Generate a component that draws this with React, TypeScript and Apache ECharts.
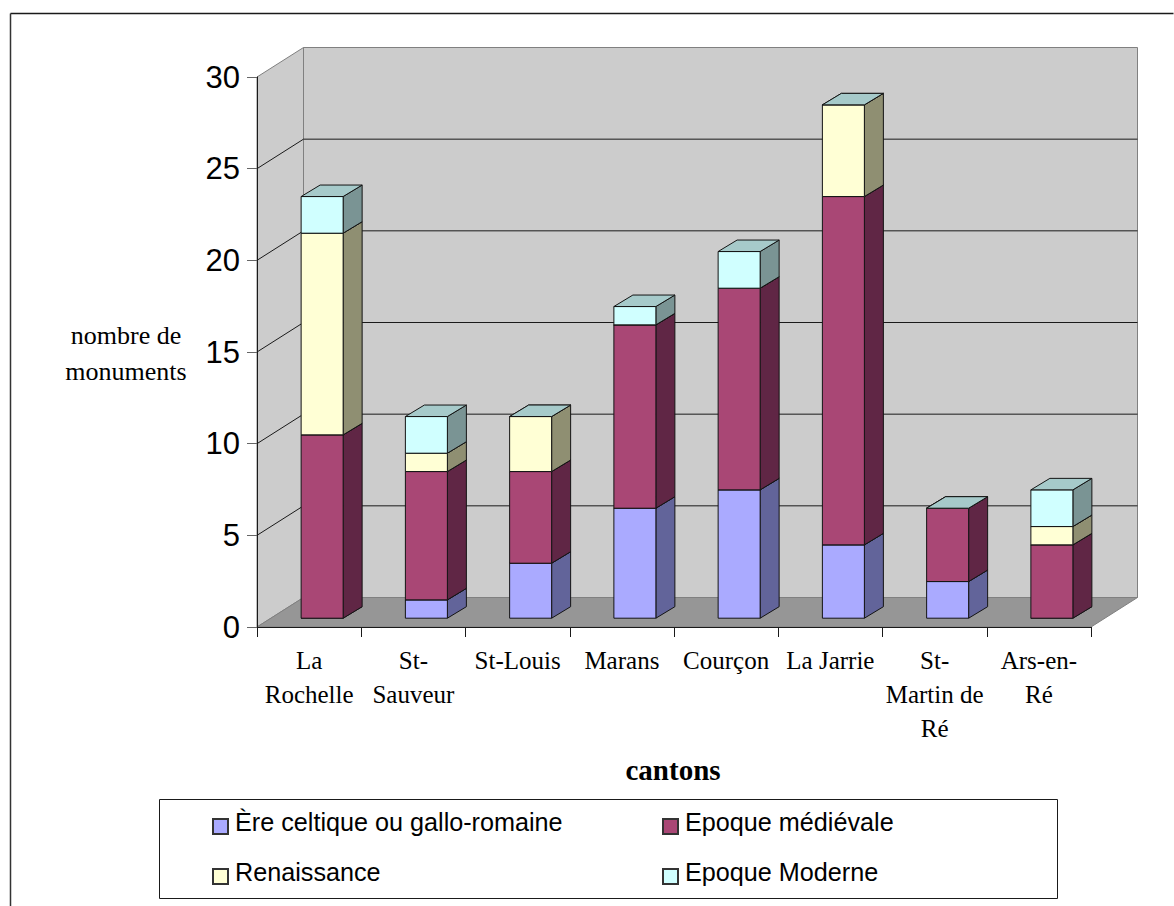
import React, { useEffect, useRef } from "react";
import * as echarts from "echarts";

const categories = ["La\nRochelle", "St-\nSauveur", "St-Louis", "Marans", "Courçon", "La Jarrie", "St-\nMartin de\nRé", "Ars-en-\nRé"];
const celtique = [0, 1, 3, 6, 7, 4, 2, 0];
const medievale = [10, 7, 5, 10, 11, 19, 4, 4];
const renaissance = [11, 1, 3, 0, 0, 5, 0, 1];
const moderne = [2, 2, 0, 1, 2, 0, 0, 2];
const yTicks = [0, 5, 10, 15, 20, 25, 30];
const seriesNames = ["Ère celtique ou gallo-romaine", "Epoque médiévale", "Renaissance", "Epoque Moderne"];
const seriesValues = [celtique, medievale, renaissance, moderne];
const frontColors = ["#AAAAFF", "#A94775", "#FFFFD5", "#D0FFFF"];
const sideColors = ["#62649A", "#602645", "#8F8F72", "#7A9494"];
const topColors = ["#7F7FBF", "#7F3558", "#BFBF9F", "#A6CACA"];

const WALL_DX = 46.5;
const WALL_DY = -29.5;
const BAR_DX = 19;
const BAR_DY = -11.5;
const BAR_SHIFT_X = 13;
const BAR_SHIFT_Y = -8.8;
const BAR_W = 42;

const SERIF = "'Liberation Serif'";
const SANS = "'Liberation Sans'";

function pts(a: number[][]) {
  return a.map((p) => [p[0], p[1]]);
}

function wallItem(params: any, api: any) {
  const v = api.value(1);
  const p0 = api.coord([0, 0]);
  const p1 = api.coord([categories.length - 1, 0]);
  const band = api.size([1, 0])[0];
  const left = p0[0] - band / 2;
  const right = p1[0] + band / 2;
  const y0 = p0[1];
  const yv = api.coord([0, v])[1];
  const children: any[] = [];
  if (v === 0) {
    const yTop = api.coord([0, yTicks[yTicks.length - 1]])[1];
    children.push({
      type: "polygon",
      shape: { points: pts([[left + WALL_DX, yTop + WALL_DY], [right + WALL_DX, yTop + WALL_DY], [right + WALL_DX, y0 + WALL_DY], [left + WALL_DX, y0 + WALL_DY]]) },
      style: { fill: "#CCCCCC", stroke: "#808080", lineWidth: 1 },
    });
    children.push({
      type: "polygon",
      shape: { points: pts([[left, yTop], [left + WALL_DX, yTop + WALL_DY], [left + WALL_DX, y0 + WALL_DY], [left, y0]]) },
      style: { fill: "#CCCCCC", stroke: "#808080", lineWidth: 1 },
    });
    children.push({
      type: "polygon",
      shape: { points: pts([[left, y0], [left + WALL_DX, y0 + WALL_DY], [right + WALL_DX, y0 + WALL_DY], [right, y0]]) },
      style: { fill: "#969696", stroke: "#808080", lineWidth: 1 },
    });
  } else if (v < yTicks[yTicks.length - 1]) {
    children.push({
      type: "polyline",
      shape: { points: pts([[left, yv], [left + WALL_DX, yv + WALL_DY], [right + WALL_DX, yv + WALL_DY]]) },
      style: { fill: "none", stroke: "#1A1A1A", lineWidth: 1 },
    });
  }
  return { type: "group", children };
}

function barItem(sIdx: number) {
  return (params: any, api: any) => {
    const cat = api.value(0);
    const from = api.value(1);
    const to = api.value(2);
    const pA = api.coord([cat, from]);
    const pB = api.coord([cat, to]);
    const x1 = pA[0] - BAR_W / 2 + BAR_SHIFT_X;
    const x2 = x1 + BAR_W;
    const yb = pA[1] + BAR_SHIFT_Y;
    const yt = pB[1] + BAR_SHIFT_Y;
    const stroke = "#141414";
    const children: any[] = [];
    if (to > from) {
      children.push({
        type: "polygon",
        shape: { points: pts([[x2, yb], [x2 + BAR_DX, yb + BAR_DY], [x2 + BAR_DX, yt + BAR_DY], [x2, yt]]) },
        style: { fill: sideColors[sIdx], stroke, lineWidth: 1 },
      });
      children.push({
        type: "rect",
        shape: { x: x1, y: yt, width: BAR_W, height: yb - yt },
        style: { fill: frontColors[sIdx], stroke, lineWidth: 1 },
      });
    }
    children.push({
      type: "polygon",
      shape: { points: pts([[x1, yt], [x1 + BAR_DX, yt + BAR_DY], [x2 + BAR_DX, yt + BAR_DY], [x2, yt]]) },
      style: { fill: topColors[sIdx], stroke, lineWidth: 1 },
    });
    return { type: "group", children };
  };
}

function buildStack(i: number) {
  return categories.map((_, c) => {
    let from = 0;
    for (let k = 0; k < i; k++) from += seriesValues[k][c];
    return [c, from, from + seriesValues[i][c]];
  });
}

export default function App() {
  const ref = useRef<HTMLDivElement>(null);
  useEffect(() => {
    document.body.style.margin = "0";
    document.body.style.overflow = "hidden";
    const chart = echarts.init(ref.current!, undefined, { renderer: "svg" });
    const legendCommon = {
      orient: "vertical",
      icon: "path://M0,0M0,9L15,9L15,24L0,24Z",
      padding: 0,
      itemWidth: 15,
      itemHeight: 24,
      itemGap: 24,
      textStyle: { fontFamily: SANS, fontSize: 25.2, color: "#000", padding: [0, 0, 0, 2] },
      selectedMode: false,
    };
    chart.setOption({
      animation: false,
      backgroundColor: "#FFFFFF",
      textStyle: { fontFamily: SERIF },
      grid: { left: 257, right: 83, top: 77, bottom: 279, containLabel: false },
      xAxis: {
        type: "category",
        data: categories,
        z: 10,
        axisLine: { lineStyle: { color: "#1A1A1A", width: 1 } },
        axisTick: { show: true, length: 10, alignWithLabel: false, lineStyle: { color: "#1A1A1A" } },
        axisLabel: { fontFamily: SERIF, fontSize: 25, color: "#000", interval: 0, lineHeight: 34, margin: 16 },
        splitLine: { show: false },
      },
      yAxis: {
        type: "value",
        min: 0,
        max: 30,
        interval: 5,
        z: 10,
        axisLine: { show: true, lineStyle: { color: "#1A1A1A", width: 1 } },
        axisTick: { show: true, length: 10, lineStyle: { color: "#666666" } },
        axisLabel: { fontFamily: SANS, fontSize: 31, color: "#000", margin: 17 },
        splitLine: { show: false },
      },
      legend: [
        { ...legendCommon, left: 212, top: 809, data: [seriesNames[0], seriesNames[2]] },
        { ...legendCommon, left: 662, top: 809, data: [seriesNames[1], seriesNames[3]] },
      ],
      series: [
        {
          type: "custom",
          name: "walls",
          coordinateSystem: "cartesian2d",
          clip: false,
          silent: true,
          data: yTicks.map((v) => [0, v]),
          encode: { x: 0, y: 1 },
          renderItem: wallItem,
          z: 1,
        },
        ...seriesNames.map((name, i) => ({
          type: "custom",
          name,
          coordinateSystem: "cartesian2d",
          clip: false,
          data: buildStack(i),
          encode: { x: 0, y: [1, 2] },
          itemStyle: { color: frontColors[i], borderColor: "#333", borderWidth: 1 },
          renderItem: barItem(i),
          z: 2 + i,
        })),
      ],
      graphic: [
        { type: "line", shape: { x1: 10.5, y1: 13.5, x2: 1173.5, y2: 13.5 }, style: { stroke: "#1A1A1A", lineWidth: 1.5 } },
        { type: "line", shape: { x1: 10.5, y1: 13.5, x2: 10.5, y2: 906 }, style: { stroke: "#333", lineWidth: 1.5 } },
        { type: "rect", z: -1, shape: { x: 159.5, y: 799.5, width: 898, height: 99 }, style: { fill: "#fff", stroke: "#1A1A1A", lineWidth: 1 } },
        { type: "text", x: 126, y: 353, style: { text: "nombre de\nmonuments", font: `26px ${SERIF}`, fill: "#000", align: "center", verticalAlign: "middle", lineHeight: 36 } },
        { type: "text", x: 673, y: 770, style: { text: "cantons", font: `bold 29px ${SERIF}`, fill: "#000", align: "center", verticalAlign: "middle" } },
      ],
    });
    return () => chart.dispose();
  }, []);
  return <div ref={ref} style={{ position: "absolute", left: 0, top: 0, width: 1174, height: 906 }} />;
}
